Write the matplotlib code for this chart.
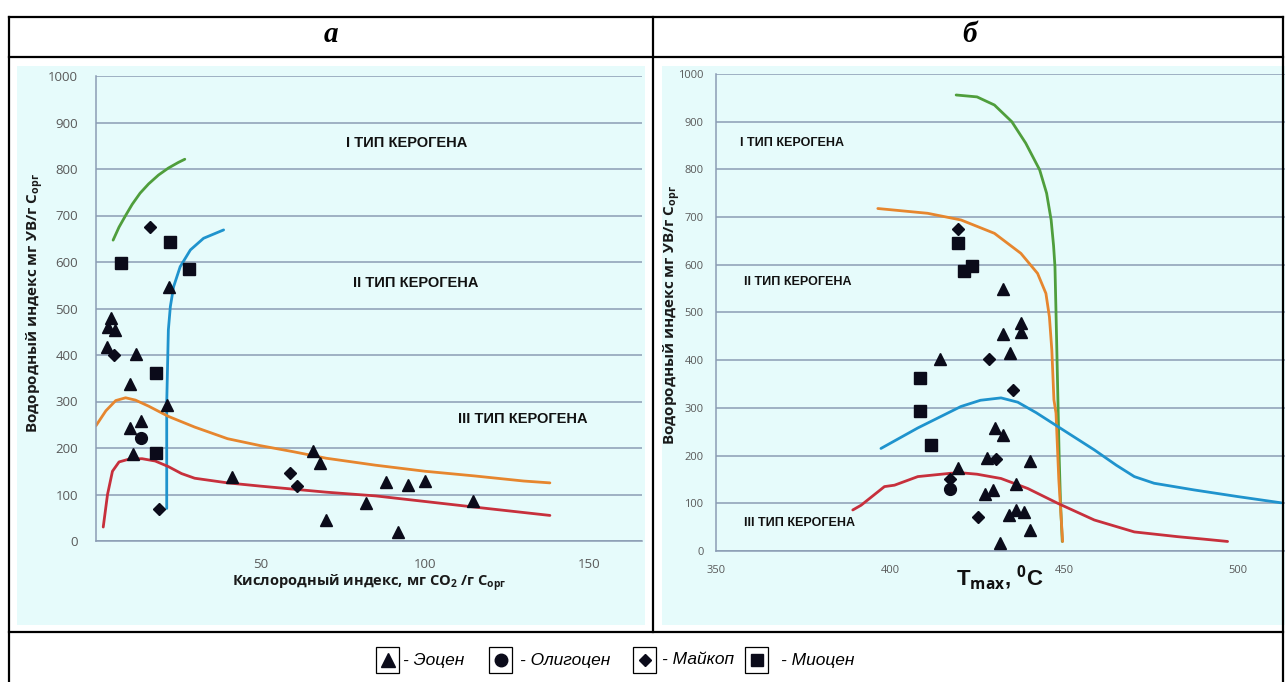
import numpy as np
import matplotlib.pyplot as plt
from matplotlib.patches import Rectangle
from matplotlib.lines import Line2D

plt.rcParams['mathtext.fontset'] = 'custom'
plt.rcParams['mathtext.bf'] = 'Open Sans:bold'
plt.rcParams['mathtext.rm'] = 'Open Sans'

# ---- panel a: HI vs OI ----
eocene_a_x = [4.6, 3.8, 5.8, 3.3, 12.2, 10.4, 21.5, 10.4, 13.7, 11.4, 22.3, 41.4, 66, 68, 69.8, 88.1, 94.9, 100, 82, 114.5, 91.9]
eocene_a_y = [480, 461, 454, 418, 402, 338, 292, 242, 257, 187, 547, 138, 194, 168, 45, 127, 120, 130, 81, 85, 20]
oligocene_a_x = [13.6]
oligocene_a_y = [221]
maikop_a_x = [16.5, 5.5, 19.3, 59.1, 61]
maikop_a_y = [676, 400, 68, 147, 119]
miocene_a_x = [22.6, 7.5, 28.4, 18.3, 18.3]
miocene_a_y = [644, 597, 584, 361, 190]

green_a_x = [5.2, 7, 9, 11, 13.4, 16, 19, 22, 25, 27]
green_a_y = [647, 675, 700, 724, 748, 768, 787, 802, 814, 821]
blue_a_x = [21.5, 21.5, 22.0, 22.6, 23.6, 25.6, 28.7, 32.7, 38.8]
blue_a_y = [70, 296, 454, 504, 547, 590, 626, 651, 669]
orange_a_x = [0, 3, 6, 9, 12, 16, 22, 30, 40, 50, 60, 70, 85, 100, 115, 130, 138]
orange_a_y = [248, 280, 302, 308, 303, 290, 268, 245, 220, 205, 192, 178, 163, 150, 140, 129, 125]
red_a_x = [2.2, 3.5, 5, 7, 10, 14, 18, 22, 26, 30, 40, 50, 70, 85, 100, 115, 138]
red_a_y = [30, 100, 150, 170, 176, 177, 172, 160, 145, 135, 125, 118, 105, 97, 85, 73, 55]

# ---- panel b: HI vs Tmax ----
eocene_b_t = [432.4, 437.5, 437.5, 432.4, 434.4, 414.5, 430.3, 432.4, 428, 440.3, 419.4, 429.5, 427.4, 436.2, 434.3, 436.3, 438.4, 440.3, 431.6]
eocene_b_y = [549, 479, 460, 454, 416, 403, 257, 243, 194, 189, 173, 128, 119, 140, 75, 86, 82, 44, 17]
oligocene_b_t = [417.3]
oligocene_b_y = [129]
maikop_b_t = [419.4, 428.4, 435.3, 430.5, 417.3, 425.3]
maikop_b_y = [676, 402, 338, 192, 150, 71]
miocene_b_t = [419.4, 423.5, 421.4, 408.6, 408.6, 411.8]
miocene_b_y = [646, 598, 586, 362, 294, 222]

green_b_t = [419, 425, 430, 435, 439, 443, 445, 446.3, 447, 447.4, 447.7, 448, 448.3, 448.6, 449, 449.5]
green_b_y = [956, 952, 935, 900, 855, 799, 750, 694, 640, 596, 500, 400, 300, 200, 100, 20]
orange_b_t = [396.5, 410.8, 420.4, 430, 437.6, 442.4, 444.8, 445.8, 446.5, 447.1, 447.7, 448.5, 449.6]
orange_b_y = [718, 708, 694, 666, 624, 582, 540, 491, 421, 317, 289, 150, 20]
blue_b_t = [397.4, 408, 420.4, 426, 431.9, 436.7, 442, 448.2, 458.7, 465, 470.2, 475.9, 487.4, 500, 512.4]
blue_b_y = [215, 258, 303, 316, 321, 312, 290, 261, 212, 180, 156, 142, 128, 114, 101]
red_b_t = [389.3, 391.7, 398.4, 401.3, 408, 417.5, 420.4, 425, 431.9, 439.6, 448.2, 458.7, 470.2, 482.7, 490, 497]
red_b_y = [86, 96, 135, 138, 156, 163, 164, 161, 152, 131, 100, 65, 40, 30, 25, 20]

W, H = 1285, 682
def fx(px):
    return px / W
def fy(py):
    return 1 - py / H

bg = '#e6fbfb'
grid_c = '#8b9cb4'
tick_c = '#595959'
mk_c = '#0b0b1a'
c_green, c_blue, c_orange, c_red = '#4f9e3c', '#1f93cd', '#e6862e', '#c7303c'

fig = plt.figure(figsize=(12.85, 6.82), dpi=100)
fig.patch.set_facecolor('white')

# cyan chart backgrounds
fig.add_artist(Rectangle((fx(17), fy(625)), (645 - 17) / W, (625 - 66) / H,
                         transform=fig.transFigure, facecolor=bg, edgecolor='none', zorder=0))
fig.add_artist(Rectangle((fx(662), fy(625)), (1285 - 662) / W, (625 - 66) / H,
                         transform=fig.transFigure, facecolor=bg, edgecolor='none', zorder=0))

# table lines
tl = dict(color='black', lw=1.6, transform=fig.transFigure, zorder=5)
fig.add_artist(Line2D([fx(9), fx(1283)], [fy(17), fy(17)], **tl))
fig.add_artist(Line2D([fx(9), fx(1283)], [fy(57), fy(57)], **tl))
fig.add_artist(Line2D([fx(9), fx(1283)], [fy(632), fy(632)], **tl))
fig.add_artist(Line2D([fx(9), fx(9)], [fy(17), fy(682)], **tl))
fig.add_artist(Line2D([fx(1283), fx(1283)], [fy(17), fy(682)], **tl))
fig.add_artist(Line2D([fx(653), fx(653)], [fy(17), fy(632)], **tl))

fig.text(fx(331), fy(35), 'а', fontsize=21, family='Liberation Serif', weight='bold',
         style='italic', ha='center', va='center')
fig.text(fx(970), fy(35), 'б', fontsize=21, family='Liberation Serif', weight='bold',
         style='italic', ha='center', va='center')


def style_axes(ax, fs):
    ax.set_facecolor('none')
    ax.set_ylim(0, 1000)
    ax.set_yticks(np.arange(0, 1001, 100))
    ax.grid(axis='y', color=grid_c, lw=1.1)
    ax.set_axisbelow(True)
    for s in ['top', 'right']:
        ax.spines[s].set_visible(False)
    for s in ['left', 'bottom']:
        ax.spines[s].set_color(grid_c)
        ax.spines[s].set_linewidth(1.1)
    ax.tick_params(length=0, labelsize=fs, labelcolor=tick_c)
    for lab in ax.get_xticklabels() + ax.get_yticklabels():
        lab.set_family('Open Sans')


def draw_points(ax, tri, circ, dia, sq):
    ax.plot(tri[0], tri[1], '^', color=mk_c, ms=9, ls='none', zorder=4)
    ax.plot(circ[0], circ[1], 'o', color=mk_c, ms=8.5, ls='none', zorder=4)
    ax.plot(dia[0], dia[1], 'D', color=mk_c, ms=6, ls='none', zorder=4)
    ax.plot(sq[0], sq[1], 's', color=mk_c, ms=8.5, ls='none', zorder=4)


# ---- left panel ----
ax1 = fig.add_axes([fx(96), fy(541), (642 - 96) / W, (541 - 76) / H])
ax1.set_xlim(0, 166)
ax1.set_xticks([50, 100, 150])
style_axes(ax1, 9.5)
ax1.tick_params(axis='y', pad=13)
ax1.tick_params(axis='x', pad=12)
lw = 2.0
ax1.plot(green_a_x, green_a_y, color=c_green, lw=lw, solid_capstyle='round')
ax1.plot(blue_a_x, blue_a_y, color=c_blue, lw=lw, solid_capstyle='round')
ax1.plot(orange_a_x, orange_a_y, color=c_orange, lw=lw, solid_capstyle='round')
ax1.plot(red_a_x, red_a_y, color=c_red, lw=lw, solid_capstyle='round')
draw_points(ax1, (eocene_a_x, eocene_a_y), (oligocene_a_x, oligocene_a_y),
            (maikop_a_x, maikop_a_y), (miocene_a_x, miocene_a_y))
ann = dict(fontsize=10.5, family='Liberation Sans', weight='bold', va='center', color='#111111')
ax1.text(76, 856, 'I ТИП КЕРОГЕНА', **ann)
ax1.text(78, 555, 'II ТИП КЕРОГЕНА', **ann)
ax1.text(110, 262, 'III ТИП КЕРОГЕНА', **ann)

fig.text(fx(35), fy(303), r'Водородный индекс мг УВ/г C$_{\mathbf{орг}}$', rotation=90,
         fontsize=11, family='Open Sans', weight='bold', ha='center', va='center', color='#1a1a1a')
fig.text(fx(369), fy(583), r'Кислородный индекс, мг CO$_{\mathbf{2}}$ /г C$_{\mathbf{орг}}$',
         fontsize=10.5, family='Open Sans', weight='bold', ha='center', va='center', color='#1a1a1a')

# ---- right panel ----
ax2 = fig.add_axes([fx(716), fy(551), (1285 - 716) / W, (551 - 74) / H])
ax2.set_xlim(350, 513.5)
ax2.set_xticks([350, 400, 450, 500])
style_axes(ax2, 8)
ax2.tick_params(axis='y', pad=9)
ax2.tick_params(axis='x', pad=10)
ax2.plot(green_b_t, green_b_y, color=c_green, lw=lw, solid_capstyle='round')
ax2.plot(orange_b_t, orange_b_y, color=c_orange, lw=lw, solid_capstyle='round')
ax2.plot(blue_b_t, blue_b_y, color=c_blue, lw=lw, solid_capstyle='round')
ax2.plot(red_b_t, red_b_y, color=c_red, lw=lw, solid_capstyle='round')
draw_points(ax2, (eocene_b_t, eocene_b_y), (oligocene_b_t, oligocene_b_y),
            (maikop_b_t, maikop_b_y), (miocene_b_t, miocene_b_y))
ann2 = dict(ann, fontsize=9)
ax2.text(357, 855, 'I ТИП КЕРОГЕНА', **ann2)
ax2.text(358, 564, 'II ТИП КЕРОГЕНА', **ann2)
ax2.text(358, 59, 'III ТИП КЕРОГЕНА', **ann2)

fig.text(fx(672), fy(315), r'Водородный индекс мг УВ/г C$_{\mathbf{орг}}$', rotation=90,
         fontsize=11, family='Open Sans', weight='bold', ha='center', va='center', color='#1a1a1a')
fig.text(fx(1000), fy(578), r'T$_{\mathbf{max}}$, $^{\mathbf{0}}$C', fontsize=16,
         family='Liberation Sans', weight='bold', ha='center', va='center', color='#111111')

# ---- legend row ----
leg_names = ['- Эоцен', '- Олигоцен', '- Майкоп', '- Миоцен']
leg_markers = ['^', 'o', 'D', 's']
leg_ms = [10, 9, 6.5, 9]
box_x = [376, 489, 633, 745]
text_x = [403, 520, 662, 781]
for bx, tx, name, m, ms in zip(box_x, text_x, leg_names, leg_markers, leg_ms):
    fig.add_artist(Rectangle((fx(bx), fy(673)), 23 / W, 26 / H, transform=fig.transFigure,
                             facecolor='white', edgecolor='black', lw=0.9))
    fig.add_artist(Line2D([fx(bx + 11.5)], [fy(660)], marker=m, ms=ms, color=mk_c,
                          ls='none', transform=fig.transFigure))
    fig.text(fx(tx), fy(660), name, fontsize=12.5, family='Liberation Sans', style='italic',
             ha='left', va='center')

fig.savefig('out.png', dpi=100)
